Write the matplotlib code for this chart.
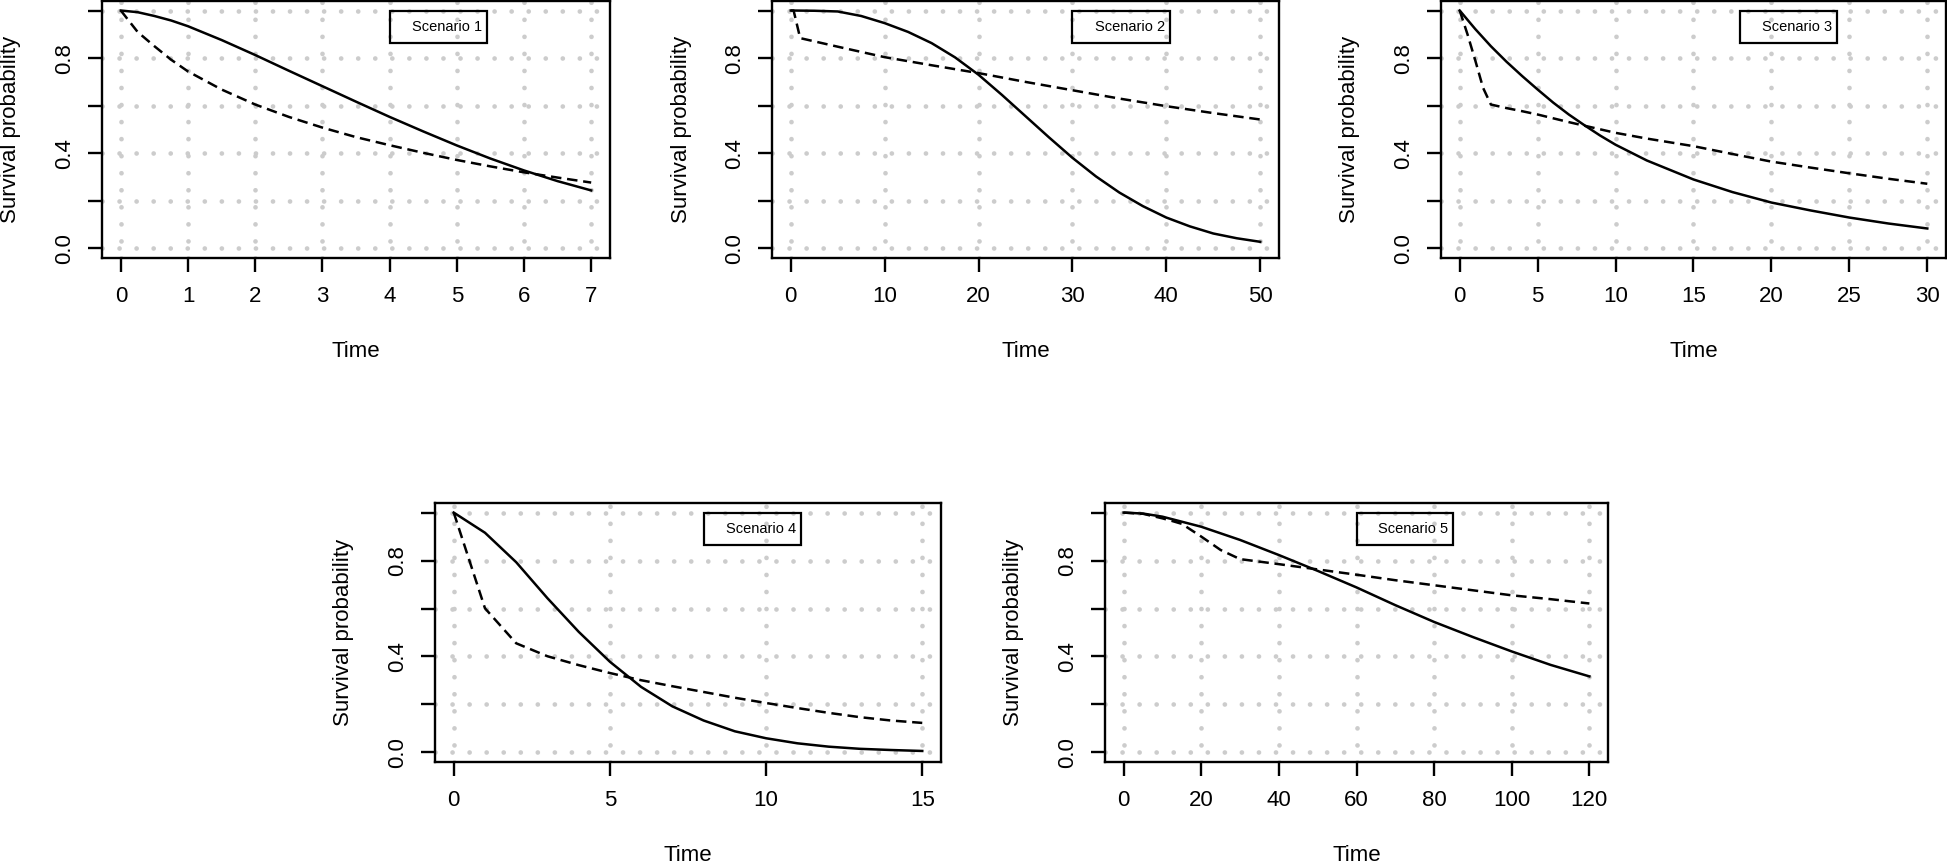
"""
Survival curves for five simulation scenarios (true vs. estimated).
"""
import matplotlib
matplotlib.use("Agg")
from matplotlib import pyplot as plt
from matplotlib.patches import Rectangle

# --- scenario data (solid = true curve, dashed = estimate) ---
s1_t = [0, 0.25, 0.5, 0.75, 1, 1.5, 2, 2.5, 3, 3.5, 4, 4.5, 5, 5.5, 6, 6.5, 7]
s1_solid = [1.0, 0.993, 0.977, 0.958, 0.934, 0.876, 0.813, 0.747, 0.682, 0.617, 0.553, 0.492, 0.433,
            0.378, 0.328, 0.283, 0.244]
s1_t_dash = [0, 0.25, 0.5, 0.75, 1, 1.5, 2, 2.5, 3, 3.5, 4, 4.5, 5, 5.5, 6, 6.5, 7]
s1_dash = [1.0, 0.91, 0.85, 0.793, 0.744, 0.668, 0.605, 0.553, 0.508, 0.468, 0.434, 0.402, 0.372,
           0.345, 0.320, 0.298, 0.277]

s2_t = [0, 2.5, 5, 7.5, 10, 12.5, 15, 17.5, 20, 22.5, 25, 27.5, 30, 32.5, 35, 37.5, 40, 42.5, 45, 47.5, 50]
s2_solid = [1.0, 0.999, 0.996, 0.977, 0.947, 0.91, 0.863, 0.803, 0.73, 0.645, 0.556, 0.467, 0.381,
            0.303, 0.235, 0.178, 0.13, 0.093, 0.063, 0.043, 0.028]
s2_t_dash = [0, 0.3, 1, 5, 10, 15, 20, 25, 30, 35, 40, 45, 50]
s2_dash = [1.0, 1.0, 0.884, 0.848, 0.804, 0.770, 0.737, 0.70, 0.665, 0.63, 0.598, 0.569, 0.542]

s3_t = [0, 1, 2, 3, 4, 5, 6, 7, 8, 9, 10, 12, 15, 17.5, 20, 22.5, 25, 27.5, 30]
s3_solid = [1.0, 0.922, 0.85, 0.785, 0.725, 0.668, 0.613, 0.563, 0.518, 0.475, 0.436, 0.37, 0.29, 0.237,
            0.193, 0.16, 0.13, 0.105, 0.084]
s3_t_dash = [0, 0.5, 1, 1.5, 2, 3, 4, 5, 6, 7, 8, 10, 12, 15, 17.5, 20, 22.5, 25, 27.5, 30]
s3_dash = [1.0, 0.9, 0.79, 0.675, 0.605, 0.59, 0.577, 0.563, 0.547, 0.531, 0.516, 0.486, 0.462, 0.43,
           0.397, 0.365, 0.34, 0.316, 0.293, 0.272]

s4_t = list(range(16))
s4_solid = [1.0, 0.916, 0.793, 0.643, 0.503, 0.378, 0.273, 0.192, 0.133, 0.088, 0.059, 0.038, 0.024,
            0.015, 0.01, 0.006]
s4_t_dash = list(range(16))
s4_dash = [1.0, 0.601, 0.455, 0.401, 0.364, 0.331, 0.301, 0.276, 0.252, 0.228, 0.206, 0.185, 0.165,
           0.147, 0.133, 0.123]

s5_t = [0, 5, 10, 20, 30, 40, 50, 60, 70, 80, 90, 100, 110, 120]
s5_solid = [1.0, 0.996, 0.983, 0.941, 0.886, 0.823, 0.757, 0.688, 0.614, 0.544, 0.481, 0.421, 0.365, 0.317]
s5_t_dash = [0, 5, 10, 12.5, 15, 20, 25, 30, 40, 50, 60, 70, 80, 90, 100, 110, 120]
s5_dash = [1.0, 0.995, 0.976, 0.965, 0.953, 0.90, 0.844, 0.806, 0.785, 0.763, 0.741, 0.718, 0.697,
           0.676, 0.655, 0.639, 0.621]

x_ticks = [list(range(0, 8)), list(range(0, 51, 10)), list(range(0, 31, 5)),
           list(range(0, 16, 5)), list(range(0, 121, 20))]
y_ticks = [0.0, 0.2, 0.4, 0.6, 0.8, 1.0]
y_tick_labels = ["0.0", "", "0.4", "", "0.8", ""]
scenario_labels = ["Scenario 1", "Scenario 2", "Scenario 3", "Scenario 4", "Scenario 5"]
legend_x = [4, 30, 18, 8, 60]

W, H = 1947, 863
GRID = "#cccccc"
FONT = "Liberation Sans"

# axes boxes in pixels: left, top, right, bottom
boxes = [(102, 1, 610, 258), (772, 1, 1279, 258), (1441, 1, 1946, 258),
         (435, 503, 941, 762), (1105, 503, 1608, 762)]


def draw_panel(fig, box, t, s, td, sd, xt, label, lx):
    left, top, right, bottom = box
    bw, bh = right - left, bottom - top
    ax = fig.add_axes([left / W, 1 - bottom / H, bw / W, bh / H])
    xmax = xt[-1]
    ax.set_xlim(-0.04 * xmax, 1.04 * xmax)
    ax.set_ylim(-0.04, 1.04)

    # dotted grid like R's grid()
    for yv in y_ticks:
        ax.axhline(yv, color=GRID, lw=3.4, ls=(0, (0.01, 3.6)), dash_capstyle="round", zorder=0)
    for xv in xt:
        ax.axvline(xv, color=GRID, lw=3.4, ls=(0, (0.01, 3.6)), dash_capstyle="round", zorder=0)

    ax.plot(t, s, color="black", lw=1.8, solid_joinstyle="round", zorder=3)
    ax.plot(td, sd, color="black", lw=1.8, ls=(0, (4.2, 2.3)), zorder=3)

    ax.set_xticks(xt)
    ax.set_xticklabels([str(v) for v in xt], fontfamily=FONT, fontsize=16)
    ax.set_yticks(y_ticks)
    ax.set_yticklabels(y_tick_labels, rotation=90, va="center", fontfamily=FONT, fontsize=16)
    ax.tick_params(axis="both", direction="out", length=10, width=1.7)
    ax.tick_params(axis="x", pad=10)
    ax.tick_params(axis="y", pad=9)
    for sp in ax.spines.values():
        sp.set_linewidth(1.7)

    ax.text(-91 / bw, 0.5, "Survival probability", transform=ax.transAxes, rotation=90,
            ha="center", va="center", fontsize=16, fontfamily=FONT)
    ax.text(0.5, -93 / bh, "Time", transform=ax.transAxes, ha="center", va="center",
            fontsize=16, fontfamily=FONT)

    # legend box (no line symbol, text right aligned)
    x0 = (lx - ax.get_xlim()[0]) / (ax.get_xlim()[1] - ax.get_xlim()[0])
    y_top = (1.0 + 0.04) / 1.08
    ax.add_patch(Rectangle((x0, y_top - 0.127), 0.192, 0.127, transform=ax.transAxes,
                           fill=False, ec="black", lw=1.6, zorder=4))
    ax.text(x0 + 0.192 - 0.01, y_top - 0.0635, label, transform=ax.transAxes, ha="right",
            va="center", fontsize=10.5, fontfamily=FONT, zorder=5)
    return ax


fig = plt.figure(figsize=(W / 100, H / 100), dpi=100)
series = [(s1_t, s1_solid, s1_t_dash, s1_dash), (s2_t, s2_solid, s2_t_dash, s2_dash),
          (s3_t, s3_solid, s3_t_dash, s3_dash), (s4_t, s4_solid, s4_t_dash, s4_dash),
          (s5_t, s5_solid, s5_t_dash, s5_dash)]
for i, (t, s, td, sd) in enumerate(series):
    draw_panel(fig, boxes[i], t, s, td, sd, x_ticks[i], scenario_labels[i], legend_x[i])

fig.savefig("out.png", dpi=100, facecolor="white")
plt.close()
